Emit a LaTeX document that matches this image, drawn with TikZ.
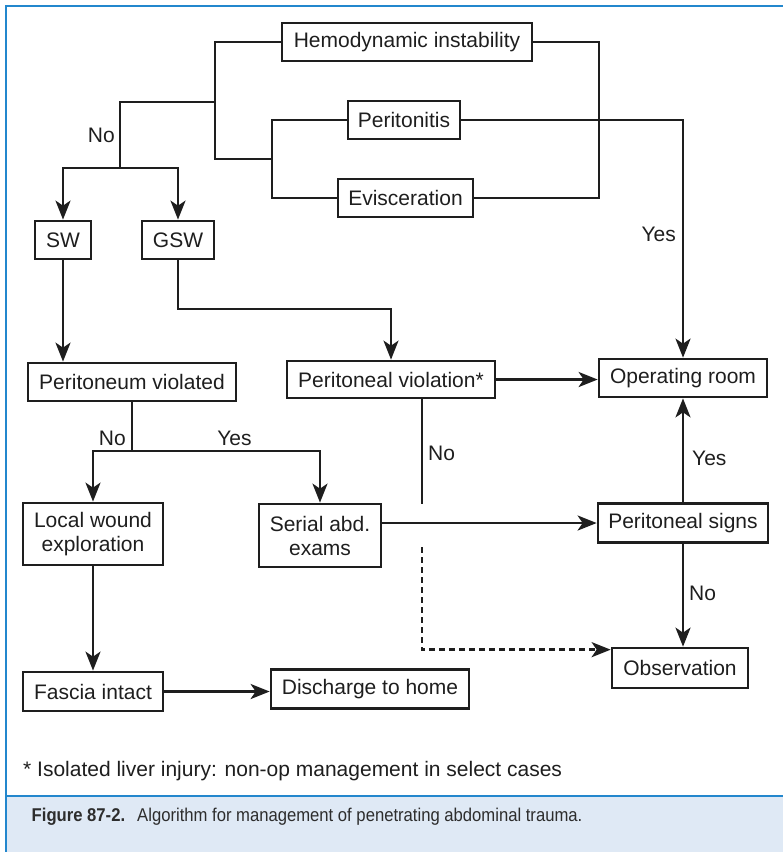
\documentclass[tikz,border=0pt]{standalone}
\usepackage{fontspec}
\setmainfont{Liberation Sans}
\newfontfamily\capfont[FakeStretch=0.9]{Liberation Sans}
\usetikzlibrary{arrows.meta}
\definecolor{frameblue}{RGB}{35,135,205}
\definecolor{bandblue}{RGB}{223,233,245}
\definecolor{ink}{RGB}{30,30,30}
\definecolor{capink}{RGB}{45,45,45}
\tikzset{
  flowbox/.style={draw=ink, line width=2.7pt, inner sep=0pt, align=center,
    font=\fontsize{21}{24}\selectfont, text=ink},
  conn/.style={draw=ink, line width=2.6pt},
  arr/.style={conn, -{Stealth[length=19pt, width=15pt, inset=5pt]}},
  dotarr/.style={arr, dash pattern=on 6pt off 4pt},
  lbl/.style={inner sep=0pt, font=\fontsize{21}{24}\selectfont, text=ink},
}
\begin{document}
\begin{tikzpicture}[x=1pt, y=-1pt, line join=miter]
\useasboundingbox (0,0) rectangle (783,852);
% frame and caption band
\fill[bandblue] (6,796) rectangle (783,852);
\draw[frameblue, line width=1.8pt] (783,6) -- (6,6) -- (6,852);
\draw[frameblue, line width=1.8pt] (6,796) -- (783,796);

% nodes
\node[flowbox, minimum width=250pt, minimum height=38pt] (hemo) at (407,42) {Hemodynamic instability};
\node[flowbox, minimum width=112pt, minimum height=38pt] (perit) at (404,120) {Peritonitis};
\node[flowbox, minimum width=135pt, minimum height=38pt] (evisc) at (405.5,198) {Evisceration};
\node[flowbox, minimum width=56pt, minimum height=38pt] (sw) at (63,240) {SW};
\node[flowbox, minimum width=72pt, minimum height=38pt] (gsw) at (178,240) {GSW};
\node[flowbox, minimum width=208pt, minimum height=38pt] (pviol) at (132,382) {Peritoneum violated};
\node[flowbox, minimum width=208pt, minimum height=37pt] (pvio2) at (391,379.5) {Peritoneal violation*};
\node[flowbox, minimum width=168pt, minimum height=38pt] (opr) at (683,378) {Operating room};
\node[flowbox, minimum width=140pt, minimum height=62pt] (lwe) at (93,534) {Local wound\\exploration};
\node[flowbox, minimum width=122pt, minimum height=63pt] (sae) at (320,535.5) {Serial abd.\\exams};
\node[flowbox, minimum width=170pt, minimum height=39pt] (psig) at (683,523) {Peritoneal signs};
\node[flowbox, minimum width=136pt, minimum height=40pt] (obs) at (680,668) {Observation};
\node[flowbox, minimum width=140pt, minimum height=39pt] (fasc) at (93,691.5) {Fascia intact};
\node[flowbox, minimum width=198pt, minimum height=39pt] (disch) at (370,689) {Discharge to home};

% junction coordinates
\coordinate (jl) at (215,102);
\coordinate (jno) at (120,168);
\coordinate (jpv) at (132,451);
\coordinate (vx) at (272,159);
\coordinate (vr) at (599,0);
\coordinate (nostub) at (422,504);
\coordinate (dstart) at (422,547);

% top tree
\draw[conn] (hemo.west) -| (215,159) -- (vx);
\draw[conn] (perit.west) -- (perit.west -| vx) |- (evisc.west);
\draw[conn] (jl) -- (120,102) -- (jno);
\draw[arr] (jno) -| (sw.north);
\draw[arr] (jno) -| (gsw.north);
\draw[conn] (hemo.east) -- (hemo.east -| vr) |- (evisc.east);
\draw[arr] (perit.east) -| (opr.north);

% middle
\draw[arr] (sw.south) -- (sw.south |- pviol.north);
\draw[arr] (gsw.south) -- (178,309) -| (pvio2.north);
\draw[arr] (pvio2.east) -- (pvio2.east -| opr.west);
\draw[conn] (pviol.south) -- (jpv);
\draw[arr] (jpv) -| (lwe.north);
\draw[arr] (jpv) -| (sae.north);
\draw[conn] (pvio2.south -| nostub) -- (nostub);
\draw[arr] (sae.east |- psig.west) -- (psig.west);
\draw[arr] (psig.north) -- (opr.south);
\draw[arr] (psig.south) -- (psig.south |- obs.north);
\draw[dotarr] (dstart) |- ([yshift=-3pt]obs.north west);
\draw[arr] (lwe.south) -- (lwe.south |- fasc.north);
\draw[arr] (fasc.east) -- (fasc.east -| disch.west);

% labels
\node[lbl, anchor=east] (lno1) at (115,135) {No};
\node[lbl, anchor=east] (lyes1) at (676,234) {Yes};
\node[lbl, anchor=east] (lno2) at (126,438) {No};
\node[lbl] (lyes2) at (234.5,438) {Yes};
\node[lbl, anchor=west] (lno3) at (428,453) {No};
\node[lbl, anchor=west] (lyes3) at (692,458) {Yes};
\node[lbl, anchor=west] (lno4) at (689,593) {No};

% footnote and caption
\node[lbl, anchor=base west] (foot) at (23,776) {* Isolated liver injury: non-op management in select cases};
\node[inner sep=0pt, anchor=base west, text=capink, font=\capfont\fontsize{18.5}{22}\selectfont\bfseries] (figno) at (31.5,821.5) {Figure 87-2.};
\node[inner sep=0pt, anchor=base west, text=capink, font=\capfont\fontsize{18.5}{22}\selectfont] (captxt) at (137,821.5) {Algorithm for management of penetrating abdominal trauma.};
\end{tikzpicture}
\end{document}
